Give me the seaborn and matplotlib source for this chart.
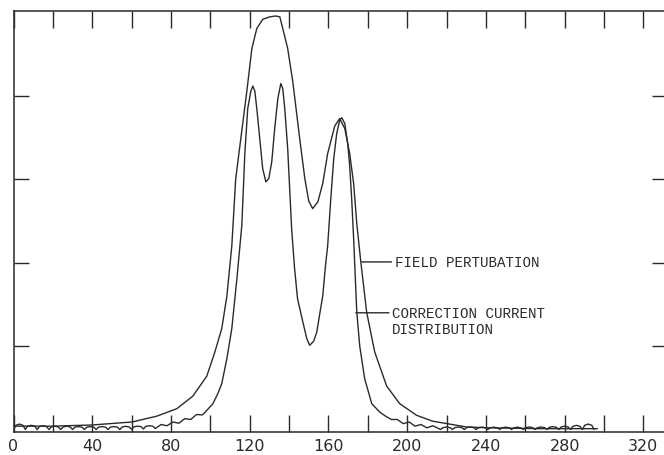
import matplotlib
matplotlib.use("Agg")
import matplotlib.pyplot as plt
import seaborn as sns
import pandas as pd

# ---- data ----
field_x = [0, 19.5, 39.8, 60.2, 72.8, 83.0, 91.1, 98.2, 102.3, 105.8, 108.4, 110.9, 112.9,
           115.0, 118.5, 121.1, 123.6, 126.6, 130.2, 133.2, 135.3, 136.8, 139.3, 141.9,
           145.4, 148.0, 150.0, 152.0, 154.6, 157.1, 159.6, 163.2, 165.7, 168.3, 170.8,
           172.8, 174.4, 176.4, 179.4, 183.5, 189.6, 196.2, 204.8, 212.9, 230.2, 241.9,
           267.3, 296.7]
field_y = [0.04, 0.04, 0.054, 0.09, 0.16, 0.25, 0.40, 0.64, 0.93, 1.21, 1.60, 2.20, 3.01,
           3.40, 4.05, 4.57, 4.81, 4.92, 4.95, 4.96, 4.95, 4.81, 4.57, 4.17,
           3.49, 3.01, 2.74, 2.65, 2.73, 2.95, 3.31, 3.64, 3.73, 3.61, 3.31,
           2.95, 2.47, 2.02, 1.41, 0.93, 0.52, 0.31, 0.17, 0.10, 0.03, 0.02,
           0.01, 0.01]

current_x = [0, 1.2, 3, 4.8, 6, 7.2, 9, 10.8, 12, 13.2, 15, 16.8, 18, 19.2, 21, 22.8,
             24, 25.2, 27, 28.8, 30, 31.2, 33, 34.8, 36, 37.2, 39, 40.8, 42, 43.2, 45, 46.8,
             48, 49.2, 51, 52.8, 54, 55.2, 57, 58.8, 60, 61.2, 63, 64.8, 66, 67.2, 69, 70.8,
             72, 75, 78, 81, 84, 87, 90, 93, 96, 99, 101.3, 103.8, 105.8, 108.4, 110.9,
             113.5, 116.0, 117.5, 119.0, 120.6, 121.6, 122.6, 123.6, 125.1, 126.6, 128.2,
             129.7, 131.2, 132.7, 134.3, 135.8, 136.8, 137.8, 139.3, 140.3, 141.3, 142.8,
             144.3, 147.0, 149.0, 150.5, 152.5, 154.1, 155.6, 157.1, 158.6, 159.6, 161.2,
             162.7, 164.2, 165.7, 166.8, 168.3, 169.8, 170.8, 171.8, 172.8, 174.4, 175.9,
             178.4, 182.0, 186.0, 189, 192, 195, 198, 201, 204, 207, 210, 213, 217,
             218.2, 220, 221.8, 223, 224.2, 226, 227.8, 229, 230.2, 232, 233.8, 235,
             236.2, 238, 239.8, 241, 242.2, 244, 245.8, 247, 248.2, 250, 251.8, 253,
             254.2, 256, 257.8, 259, 260.2, 262, 263.8, 265, 266.2, 268, 269.8, 271,
             272.2, 274, 275.8, 277, 278.2, 280, 281.8, 283, 284.2, 286, 287.8, 289,
             290.2, 292, 293.8, 295]
current_y = [0, 0.05, 0.065, 0.05, 0, 0.04, 0.05, 0.04, 0, 0.035, 0.045, 0.035, 0, 0.03, 0.04, 0.03,
             0, 0.03, 0.04, 0.03, 0, 0.028, 0.035, 0.028, 0, 0.028, 0.035, 0.028, 0, 0.028, 0.035, 0.028,
             0, 0.028, 0.035, 0.028, 0, 0.03, 0.038, 0.03, 0.002, 0.032, 0.04, 0.034, 0.006, 0.038, 0.045, 0.04,
             0.012, 0.06, 0.045, 0.09, 0.075, 0.13, 0.12, 0.18, 0.175, 0.25, 0.31, 0.43, 0.55, 0.85, 1.21,
             1.81, 2.45, 3.30, 3.85, 4.06, 4.12, 4.06, 3.85, 3.49, 3.13, 2.97,
             3.01, 3.21, 3.61, 3.97, 4.15, 4.09, 3.85, 3.37, 2.89, 2.41, 1.93,
             1.57, 1.29, 1.09, 1.01, 1.06, 1.17, 1.39, 1.60, 1.99, 2.20, 2.77,
             3.25, 3.55, 3.71, 3.74, 3.67, 3.43, 3.16, 2.77, 2.29, 1.41, 1.00,
             0.61, 0.31, 0.21, 0.16, 0.12, 0.12, 0.07, 0.09, 0.04, 0.06, 0.02, 0.045, 0.0,
             0.022, 0.03, 0.022, 0, 0.022, 0.03, 0.022, 0, 0.022, 0.03, 0.022, 0,
             0.02, 0.028, 0.02, 0, 0.02, 0.028, 0.02, 0, 0.02, 0.028, 0.02, 0,
             0.02, 0.028, 0.02, 0, 0.022, 0.03, 0.022, 0, 0.022, 0.03, 0.022, 0,
             0.026, 0.035, 0.026, 0, 0.03, 0.04, 0.03, 0, 0.038, 0.05, 0.038, 0,
             0.05, 0.065, 0.05, 0]

x_tick_values = [0, 20, 40, 60, 80, 100, 120, 140, 160, 180, 200, 220, 240, 260, 280, 300, 320]
x_tick_labels = ["0", "", "40", "", "80", "", "120", "", "160", "", "200", "", "240", "", "280", "", "320"]
y_tick_values = [1, 2, 3, 4]

label_field = "FIELD PERTUBATION"
label_current_1 = "CORRECTION CURRENT"
label_current_2 = "DISTRIBUTION"

# ---- plot ----
sns.set_theme(style="white")
plt.rcParams["font.family"] = ["DejaVu Sans"]

ink = "#2a2a2a"
fig = plt.figure(figsize=(6.64, 4.56), dpi=100)
ax = fig.add_axes([13.5 / 664, (456 - 433) / 456, (667 - 13.5) / 664, (433 - 12) / 456])

df_field = pd.DataFrame({"x": field_x, "y": field_y})
df_current = pd.DataFrame({"x": current_x, "y": current_y})
sns.lineplot(data=df_field, x="x", y="y", sort=False, estimator=None, color=ink, linewidth=1.0, ax=ax)
sns.lineplot(data=df_current, x="x", y="y", sort=False, estimator=None, color=ink, linewidth=1.0, ax=ax)

ax.set_xlim(0, 332)
ax.set_ylim(-0.03, 5.02)
ax.set_xlabel("")
ax.set_ylabel("")

ax.set_xticks(x_tick_values)
ax.set_xticklabels(x_tick_labels)
ax.set_yticks(y_tick_values)
ax.set_yticklabels([])

ax.tick_params(axis="x", which="major", direction="in", length=12, width=1.0, color=ink,
               top=True, bottom=True, labelsize=11.5, labelcolor=ink, pad=4)
ax.tick_params(axis="y", which="major", direction="in", length=11, width=1.0, color=ink,
               left=True, right=True)

for s in ax.spines.values():
    s.set_color(ink)
    s.set_linewidth(1.1)

mono = ["Liberation Mono", "DejaVu Sans Mono"]
fs = 10.2
ax.annotate(label_field, xy=(176.9, 2.01), xytext=(193.7, 2.01),
            va="center", ha="left", fontsize=fs, family=mono, color=ink,
            arrowprops=dict(arrowstyle="-", color=ink, lw=1.0, shrinkA=0, shrinkB=0))
ax.annotate(label_current_1, xy=(173.9, 1.40), xytext=(192.4, 1.40),
            va="center", ha="left", fontsize=fs, family=mono, color=ink,
            arrowprops=dict(arrowstyle="-", color=ink, lw=1.0, shrinkA=0, shrinkB=0))
ax.text(192.4, 1.21, label_current_2, va="center", ha="left", fontsize=fs,
        family=mono, color=ink)

fig.savefig("out.png", dpi=100, facecolor="white")
